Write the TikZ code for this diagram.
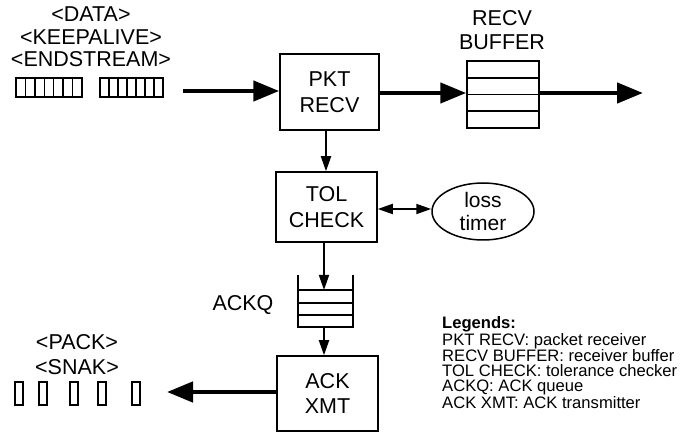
\documentclass[tikz,border=0pt]{standalone}
\usepackage{fontspec}
\setmainfont{Liberation Sans}
\usetikzlibrary{arrows.meta,shapes.geometric}
\begin{document}
\begin{tikzpicture}[x=1pt,y=-1pt,
  box/.style={draw,line width=1.5pt,rectangle,inner sep=0pt,align=center,
    font=\fontsize{21.5}{25.5}\selectfont},
  lbl/.style={inner sep=0pt,align=center,font=\fontsize{21.5}{22.5}\selectfont},
  thick arrow/.style={line width=4.5pt,-{Triangle[length=26pt,width=20pt]}},
  thin arrow/.style={line width=1.8pt,-{Triangle[length=15pt,width=10pt]}},
  both arrow/.style={line width=1.8pt,{Triangle[length=15pt,width=10pt]}-{Triangle[length=15pt,width=10pt]}},
  shape line/.style={line width=1.5pt},
  legend/.style={inner sep=0pt,anchor=north west,align=left,
    font=\fontsize{16.6}{15}\selectfont}]
\useasboundingbox (0,0) rectangle (686,435);

% boxes
\node[box,minimum width=99pt,minimum height=76pt] (pkt) at (329.5,92) {PKT\\RECV};
\node[box,minimum width=101pt,minimum height=70pt] (tol) at (326.5,207) {TOL\\CHECK};
\node[box,minimum width=101pt,minimum height=75pt] (ack) at (327.5,393.5) {ACK\\XMT};
\node[draw,line width=1.5pt,ellipse,inner sep=0pt,minimum width=102pt,minimum height=57pt,
  align=center,font=\fontsize{21}{23}\selectfont] (timer) at (483,211.5) {loss\\timer};

% receive buffer
\node[draw,line width=1.5pt,rectangle,inner sep=0pt,minimum width=72pt,minimum height=67pt] (buf) at (503,94.5) {};
\draw[shape line] (467,78) -- (539,78) (467,94.5) -- (539,94.5) (467,111) -- (539,111);
\node[lbl,font=\fontsize{21.5}{24}\selectfont] (buflbl) at (502,30) {RECV\\BUFFER};

% ACK queue
\node[inner sep=0pt,minimum width=55pt,minimum height=52pt] (ackq) at (325.5,301) {};
\draw[shape line] (ackq.north west) -- (ackq.south west) -- (ackq.south east) -- (ackq.north east);
\draw[shape line] (298,290) -- (353,290) (298,303) -- (353,303) (298,315) -- (353,315);
\coordinate (ackqin) at (324,290);
\node[lbl] (ackqlbl) at (243,305) {ACKQ};

% incoming packets
\node[lbl] (inlbl) at (91,37) {<DATA>\\<KEEPALIVE>\\<ENDSTREAM>};
\foreach \a/\b in {16/82,100/163}{
  \draw[shape line] (\a,78) rectangle (\b,97);
  \foreach \i in {1,...,6}{
    \draw[shape line] ({\a+(\b-\a)*\i/7},78) -- ({\a+(\b-\a)*\i/7},97);
  }
}

% outgoing acks
\node[lbl,font=\fontsize{21.5}{25}\selectfont] (outlbl) at (77,354.5) {<PACK>\\<SNAK>};
\foreach \a in {15,39,70,98,132}{
  \draw[line width=1.3pt] (\a,382) rectangle (\a+8,405);
}

% connectors
\coordinate (instart) at (183,91);
\coordinate (bufout) at (643,93);
\coordinate (ackout) at (167,392);
\draw[thick arrow] (instart) -- (pkt.west |- instart);
\draw[thick arrow] (pkt.east |- bufout) -- (buf.west |- bufout);
\draw[thick arrow] (buf.east |- bufout) -- (bufout);
\draw[thin arrow] (pkt.south -| 326,0) -- (tol.north -| 326,0);
\draw[both arrow] (tol.east |- 0,209) -- (timer.west |- 0,209);
\draw[thin arrow] (tol.south -| ackqin) -- (ackqin);
\draw[thin arrow] (ackq.south -| 324,0) -- (ack.north -| 324,0);
\draw[thick arrow] (ack.west |- ackout) -- (ackout);

% legend
\node[legend] (leg) at (442,316.5) {\textbf{Legends:}\\
PKT RECV: packet receiver\\
RECV BUFFER: receiver buffer\\
TOL CHECK: tolerance checker\\
ACKQ: ACK queue\\
ACK XMT: ACK transmitter};
\end{tikzpicture}
\end{document}
